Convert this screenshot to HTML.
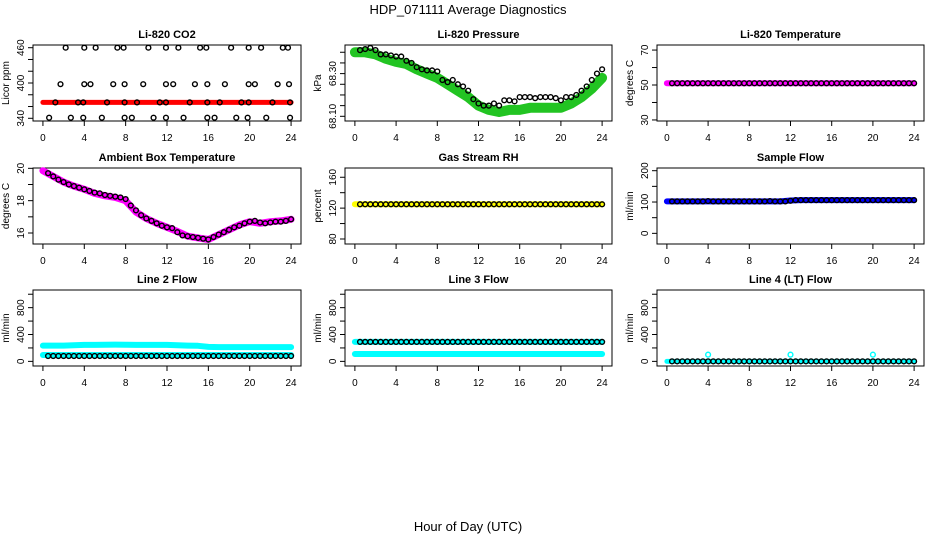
<!DOCTYPE html>
<html><head><meta charset="utf-8"><title>HDP_071111 Average Diagnostics</title>
<style>
html,body{margin:0;padding:0;background:#fff;}
svg{display:block;font-family:"Liberation Sans",Arial,sans-serif;}
</style></head>
<body>
<svg id="chart" width="936" height="540" viewBox="0 0 936 540" xmlns="http://www.w3.org/2000/svg">
<rect x="0" y="0" width="936" height="540" fill="#fff"/>
<text x="468" y="14" font-size="13" text-anchor="middle">HDP_071111  Average Diagnostics</text>
<text x="468" y="531" font-size="13" text-anchor="middle">Hour of Day (UTC)</text>
</svg>
<script>
// ---- shared categories ----
const halfHours = [0.5,1,1.5,2,2.5,3,3.5,4,4.5,5,5.5,6,6.5,7,7.5,8,8.5,9,9.5,10,10.5,11,11.5,12,12.5,13,13.5,14,14.5,15,15.5,16,16.5,17,17.5,18,18.5,19,19.5,20,20.5,21,21.5,22,22.5,23,23.5,24];
const hours = [0,1,2,3,4,5,6,7,8,9,10,11,12,13,14,15,16,17,18,19,20,21,22,23,24];
const xTickValues = [0,4,8,12,16,20,24];
const xTickLabels = ["0","4","8","12","16","20","24"];

// ---- CO2 ----
const co2BandHours = [0,24];
const co2BandValues = [367,367];
const co2TopHours = [2.2,4.0,5.1,7.2,7.8,10.2,11.9,13.1,15.2,15.8,18.2,19.9,21.1,23.2,23.7];
const co2TopValues = [460,460,460,460,460,460,460,460,460,460,460,460,460,460,460];
const co2MidHours = [1.7,4.0,4.6,6.8,7.9,9.7,11.9,12.6,14.7,15.9,17.6,19.9,20.5,22.7,23.8];
const co2MidValues = [398,398,398,398,398,398,398,398,398,398,398,398,398,398,398];
const co2RowHours = [1.2,3.4,3.9,6.2,7.9,9.1,11.3,11.9,14.2,15.9,17.1,19.2,19.9,22.2,23.9];
const co2RowValues = [367,367,367,367,367,367,367,367,367,367,367,367,367,367,367];
const co2LowHours = [0.6,2.7,3.9,5.7,7.9,8.6,10.7,11.9,13.6,15.9,16.6,18.7,19.8,21.6,23.9];
const co2LowValues = [341,341,341,341,341,341,341,341,341,341,341,341,341,341,341];
const co2Ticks = [340,360,380,400,420,440,460];
const co2Labels = ["340","","","400","","","460"];

// ---- Pressure ----
const pressBandValues = [68.40,68.40,68.39,68.37,68.355,68.345,68.32,68.30,68.28,68.25,68.22,68.19,68.15,68.13,68.12,68.13,68.13,68.14,68.14,68.14,68.14,68.16,68.19,68.23,68.28];
const pressBlackValues = [68.41,68.415,68.42,68.41,68.39,68.39,68.385,68.38,68.38,68.36,68.35,68.33,68.32,68.315,68.315,68.31,68.27,68.26,68.27,68.25,68.24,68.22,68.18,68.16,68.15,68.15,68.16,68.15,68.175,68.175,68.17,68.19,68.19,68.19,68.185,68.19,68.19,68.19,68.185,68.175,68.19,68.19,68.20,68.22,68.24,68.27,68.30,68.32];
const pressTicks = [68.10,68.15,68.20,68.25,68.30,68.35,68.40];
const pressLabels = ["68.10","","","","68.30","",""];

// ---- Li-820 Temperature ----
const tempBandValues = [51,51,51,51,51,51,51,51,51,51,51,51,51,51,51,51,51,51,51,51,51,51,51,51,51];
const tempBlackValues = [51,51,51,51,51,51,51,51,51,51,51,51,51,51,51,51,51,51,51,51,51,51,51,51,51,51,51,51,51,51,51,51,51,51,51,51,51,51,51,51,51,51,51,51,51,51,51,51];
const tempTicks = [30,40,50,60,70];
const tempLabels = ["30","","50","","70"];

// ---- Ambient Box Temperature ----
const ambBandValues = [19.85,19.5,19.15,18.9,18.7,18.45,18.3,18.2,18.0,17.3,16.9,16.6,16.35,16.1,15.8,15.7,15.6,15.9,16.2,16.5,16.7,16.6,16.7,16.75,16.85];
const ambBlackValues = [19.7,19.5,19.3,19.15,19.0,18.9,18.8,18.7,18.6,18.5,18.45,18.35,18.3,18.25,18.2,18.1,17.7,17.4,17.1,16.9,16.75,16.6,16.45,16.35,16.3,16.05,15.85,15.8,15.75,15.7,15.65,15.6,15.75,15.9,16.05,16.2,16.35,16.45,16.6,16.7,16.75,16.65,16.6,16.65,16.7,16.7,16.75,16.85];
const ambTicks = [16,17,18,19,20];
const ambLabels = ["16","","18","","20"];

// ---- Gas Stream RH ----
const rhBandValues = [125,125,125,125,125,125,125,125,125,125,125,125,125,125,125,125,125,125,125,125,125,125,125,125,125];
const rhBlackValues = [125,125,125,125,125,125,125,125,125,125,125,125,125,125,125,125,125,125,125,125,125,125,125,125,125,125,125,125,125,125,125,125,125,125,125,125,125,125,125,125,125,125,125,125,125,125,125,125];
const rhTicks = [80,100,120,140,160];
const rhLabels = ["80","","120","","160"];

// ---- Sample Flow ----
const sfBandValues = [102,102,102,102,102,102,102,102,102,102,102,102,105,106,106,106,106,106,106,106,106,106,106,106,106];
const sfBlackValues = [102,102,102,102,102,102,102,103,102,102,102,102,102,102,102,102,102,102,102,103,102,102,102,104,106,106,106,106,106,106,106,106,106,106,106,106,106,106,106,106,106,106,106,106,106,106,106,106];
const sfTicks = [0,50,100,150,200];
const sfLabels = ["0","","100","","200"];

// ---- Line 2 Flow ----
const l2UpperValues = [235,235,235,240,245,245,248,250,248,245,245,245,245,240,235,232,215,212,212,212,212,212,212,212,212];
const l2LowerValues = [95,95,95,95,95,95,95,95,95,95,95,95,95,95,95,95,95,95,95,95,95,95,95,95,95];
const l2BlackValues = [80,80,80,80,80,80,80,80,80,80,80,80,80,80,80,80,80,80,80,80,80,80,80,80,80,80,80,80,80,80,80,80,80,80,80,80,80,80,80,80,80,80,80,80,80,80,80,80];
const flowTicks = [0,200,400,600,800,1000];
const flowLabels = ["0","","400","","800",""];

// ---- Line 3 Flow ----
const l3UpperValues = [290,290,290,290,290,290,290,290,290,290,290,290,290,290,290,290,290,290,290,290,290,290,290,290,290];
const l3LowerValues = [110,110,110,110,110,110,110,110,110,110,110,110,110,110,110,110,110,110,110,110,110,110,110,110,110];
const l3BlackValues = [290,290,290,290,290,290,290,290,290,290,290,290,290,290,290,290,290,290,290,290,290,290,290,290,290,290,290,290,290,290,290,290,290,290,290,290,290,290,290,290,290,290,290,290,290,290,290,290];

// ---- Line 4 Flow ----
const l4BandValues = [0,0,0,0,0,0,0,0,0,0,0,0,0,0,0,0,0,0,0,0,0,0,0,0,0];
const l4SpikeHours = [4,12,20];
const l4SpikeValues = [100,100,100];
const l4BlackValues = [0,0,0,0,0,0,0,0,0,0,0,0,0,0,0,0,0,0,0,0,0,0,0,0,0,0,0,0,0,0,0,0,0,0,0,0,0,0,0,0,0,0,0,0,0,0,0,0];

const NS = "http://www.w3.org/2000/svg";
const svg = document.getElementById("chart");
const cols = [[33,301],[345,612],[657,924]];
const rows = [[45,121],[168,244],[290,366]];

function mk(tag, attrs, parent){
  const e = document.createElementNS(NS, tag);
  for (const k in attrs) e.setAttribute(k, attrs[k]);
  (parent||svg).appendChild(e);
  return e;
}

function panel(cfg){
  const [L,R] = cols[cfg.col], [T,B] = rows[cfg.row];
  const g = mk("g", {});
  
  
  const xs = h => L + (h + 0.96) / 25.92 * (R - L);
  const ys = v => B - (v - cfg.ymin) / (cfg.ymax - cfg.ymin) * (B - T);
  const t = mk("text", {x:(L+R)/2, y:T-7, "font-size":11, "font-weight":"bold", "text-anchor":"middle"}, g);
  t.textContent = cfg.title;
  
  
  const bx = mk("rect", {x:L, y:T, width:R-L, height:B-T, fill:"none", stroke:"#000", "stroke-width":1}, g);
  
  
  const xa = mk("g", {}, g);
  
  
  xTickValues.forEach((v,i)=>{
    mk("line", {x1:xs(v), x2:xs(v), y1:B, y2:B+5, stroke:"#000"}, xa);
    const tl = mk("text", {x:xs(v), y:B+20, "font-size":10, "text-anchor":"middle"}, xa);
    tl.textContent = xTickLabels[i];
    
    
  });
  const ya = mk("g", {}, g);
  
  
  cfg.ticks.forEach((v,i)=>{
    const y = ys(v);
    mk("line", {x1:L-5, x2:L, y1:y, y2:y, stroke:"#000"}, ya);
    if (cfg.labels[i]) {
      const tl = mk("text", {x:0, y:0, "font-size":10, "text-anchor":"middle", transform:`translate(${L-9},${y}) rotate(-90)`}, ya);
      tl.textContent = cfg.labels[i];
      
      
    }
  });
  const yt = mk("text", {x:0, y:0, "font-size":10, "text-anchor":"middle", transform:`translate(${L-24},${(T+B)/2}) rotate(-90)`}, g);
  yt.textContent = cfg.ytitle;
  
  
  (cfg.bands||[]).forEach(b=>{
    const pts = b.x.map((h,i)=>xs(h).toFixed(1)+","+ys(b.y[i]).toFixed(1)).join(" ");
    const pl = mk("polyline", {points:pts, fill:"none", stroke:b.color, "stroke-width":b.w, "stroke-linecap":"round", "stroke-linejoin":"round"}, g);
    
    
  });
  (cfg.points||[]).forEach(p=>{
    const sg = mk("g", {}, g);
    
    
    p.x.forEach((h,i)=>{
      const c = mk("circle", {cx:xs(h), cy:ys(p.y[i]), r:2.4, fill:"none", stroke:p.color, "stroke-width":1.4}, sg);
      
      
    });
  });
}

panel({name:"panel-co2", title:"Li-820 CO2", col:0, row:0, ymin:335.4, ymax:464.6, ticks:co2Ticks, labels:co2Labels, ytitle:"Licor ppm",
  bands:[{name:"co2-band", x:co2BandHours, y:co2BandValues, color:"#ff0000", w:5}],
  points:[{name:"co2-top-points",x:co2TopHours,y:co2TopValues,color:"#000"},{name:"co2-mid-points",x:co2MidHours,y:co2MidValues,color:"#000"},
          {name:"co2-row-points",x:co2RowHours,y:co2RowValues,color:"#000"},{name:"co2-low-points",x:co2LowHours,y:co2LowValues,color:"#000"}]});
panel({name:"panel-pressure", title:"Li-820 Pressure", col:1, row:0, ymin:68.078, ymax:68.434, ticks:pressTicks, labels:pressLabels, ytitle:"kPa",
  bands:[{name:"pressure-band", x:hours, y:pressBandValues, color:"#22c422", w:10}],
  points:[{name:"pressure-points",x:halfHours,y:pressBlackValues,color:"#000"}]});
panel({name:"panel-li820-temperature", title:"Li-820 Temperature", col:2, row:0, ymin:29.4, ymax:72.9, ticks:tempTicks, labels:tempLabels, ytitle:"degrees C",
  bands:[{name:"temperature-band", x:hours, y:tempBandValues, color:"#ff00ff", w:6}],
  points:[{name:"temperature-points",x:halfHours,y:tempBlackValues,color:"#000"}]});
panel({name:"panel-ambient-temperature", title:"Ambient Box Temperature", col:0, row:1, ymin:15.32, ymax:20.02, ticks:ambTicks, labels:ambLabels, ytitle:"degrees C",
  bands:[{name:"ambient-band", x:hours, y:ambBandValues, color:"#ff00ff", w:7}],
  points:[{name:"ambient-points",x:halfHours,y:ambBlackValues,color:"#000"}]});
panel({name:"panel-gas-rh", title:"Gas Stream RH", col:1, row:1, ymin:73.5, ymax:172, ticks:rhTicks, labels:rhLabels, ytitle:"percent",
  bands:[{name:"rh-band", x:hours, y:rhBandValues, color:"#ffff00", w:6}],
  points:[{name:"rh-points",x:halfHours,y:rhBlackValues,color:"#000"}]});
panel({name:"panel-sample-flow", title:"Sample Flow", col:2, row:1, ymin:-34, ymax:208.6, ticks:sfTicks, labels:sfLabels, ytitle:"ml/min",
  bands:[{name:"sample-flow-band", x:hours, y:sfBandValues, color:"#0000ff", w:6}],
  points:[{name:"sample-flow-points",x:halfHours,y:sfBlackValues,color:"#000"}]});
panel({name:"panel-line2-flow", title:"Line 2 Flow", col:0, row:2, ymin:-69, ymax:1063, ticks:flowTicks, labels:flowLabels, ytitle:"ml/min",
  bands:[{name:"line2-upper-band", x:hours, y:l2UpperValues, color:"#00ffff", w:6},{name:"line2-lower-band", x:hours, y:l2LowerValues, color:"#00ffff", w:6}],
  points:[{name:"line2-points",x:halfHours,y:l2BlackValues,color:"#000"}]});
panel({name:"panel-line3-flow", title:"Line 3 Flow", col:1, row:2, ymin:-69, ymax:1063, ticks:flowTicks, labels:flowLabels, ytitle:"ml/min",
  bands:[{name:"line3-upper-band", x:hours, y:l3UpperValues, color:"#00ffff", w:6},{name:"line3-lower-band", x:hours, y:l3LowerValues, color:"#00ffff", w:6}],
  points:[{name:"line3-points",x:halfHours,y:l3BlackValues,color:"#000"}]});
panel({name:"panel-line4-flow", title:"Line 4 (LT) Flow", col:2, row:2, ymin:-69, ymax:1063, ticks:flowTicks, labels:flowLabels, ytitle:"ml/min",
  bands:[{name:"line4-band", x:hours, y:l4BandValues, color:"#00ffff", w:5}],
  points:[{name:"line4-points",x:halfHours,y:l4BlackValues,color:"#000"},{name:"line4-spikes",x:l4SpikeHours,y:l4SpikeValues,color:"#00ffff"}]});
</script>
</body></html>
